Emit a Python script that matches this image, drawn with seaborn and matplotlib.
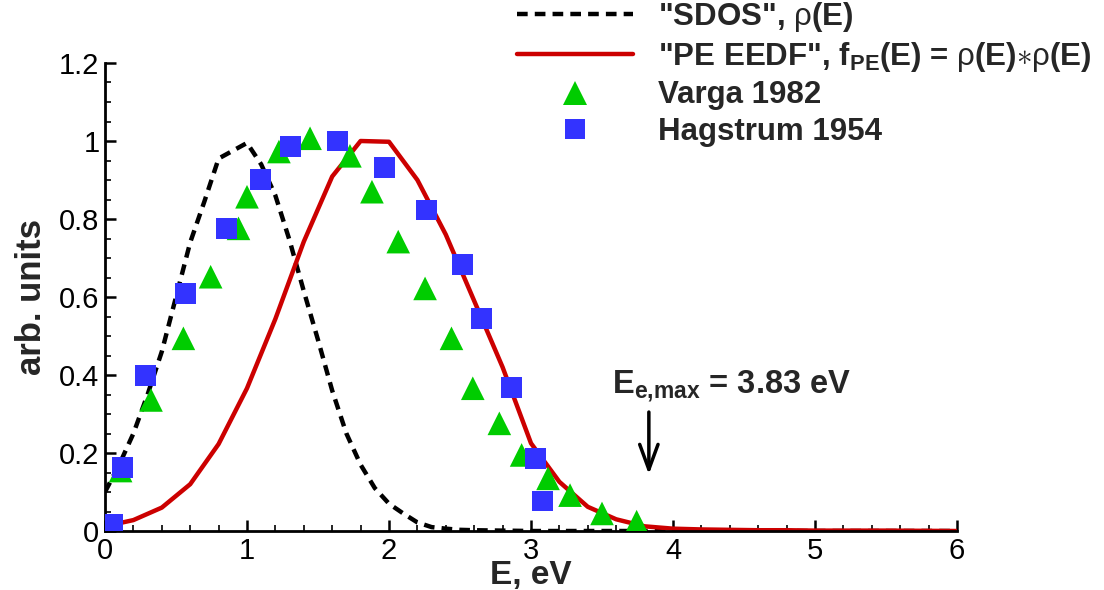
import numpy as np
import matplotlib
matplotlib.use("Agg")
import matplotlib.pyplot as plt
import seaborn as sns
from matplotlib.ticker import MultipleLocator, FuncFormatter
from matplotlib.lines import Line2D

# ---------------- data ----------------
sdos_E = [0.0, 0.1, 0.2, 0.3, 0.4, 0.5, 0.6, 0.7, 0.8, 0.9, 1.0, 1.1, 1.2, 1.3,
          1.4, 1.5, 1.6, 1.7, 1.8, 1.9, 2.0, 2.1, 2.2, 2.3, 2.4, 2.5, 2.6, 2.8,
          3.0, 3.5, 4.0, 5.0, 6.0]
sdos_rho = [0.10, 0.17, 0.25, 0.35, 0.46, 0.60, 0.74, 0.845, 0.955, 0.975, 0.995,
            0.94, 0.86, 0.745, 0.615, 0.49, 0.36, 0.25, 0.17, 0.11, 0.07, 0.045,
            0.022, 0.010, 0.006, 0.003, 0.002, 0.001, 0.0, 0.0, 0.0, 0.0, 0.0]

eedf_E = [0.0, 0.2, 0.4, 0.6, 0.8, 1.0, 1.2, 1.4, 1.6, 1.8, 2.0, 2.2, 2.4, 2.6,
          2.8, 3.0, 3.2, 3.4, 3.6, 3.8, 4.0, 4.2, 4.4, 4.6, 4.8, 5.0, 5.5, 6.0]
eedf_f = [0.012, 0.028, 0.06, 0.12, 0.223, 0.366, 0.544, 0.742, 0.909, 1.0, 0.998,
          0.90, 0.76, 0.59, 0.42, 0.225, 0.126, 0.062, 0.03, 0.012, 0.006, 0.004,
          0.003, 0.002, 0.002, 0.001, 0.001, 0.0]

varga_E = [0.11, 0.324, 0.552, 0.744, 0.94, 1.0, 1.225, 1.444, 1.725, 1.88, 2.065,
           2.254, 2.44, 2.59, 2.777, 2.934, 3.12, 3.275, 3.5, 3.744]
varga_y = [0.155, 0.336, 0.494, 0.652, 0.776, 0.857, 0.973, 1.007, 0.962, 0.87, 0.742,
           0.622, 0.494, 0.366, 0.276, 0.195, 0.135, 0.092, 0.045, 0.024]

hag_E = [0.05, 0.122, 0.284, 0.566, 0.857, 1.094, 1.305, 1.636, 1.97, 2.263, 2.518,
         2.65, 2.861, 3.03, 3.08]
hag_y = [0.016, 0.163, 0.399, 0.609, 0.775, 0.902, 0.986, 1.0, 0.933, 0.823, 0.684,
         0.545, 0.368, 0.186, 0.077]

labels = ['"SDOS", $\\rho$(E)',
          '"PE EEDF", f$_{\\mathbf{PE}}$(E) = $\\rho$(E)$\\ast$$\\rho$(E)',
          'Varga 1982', 'Hagstrum 1954']
annot_value = 3.83

# ---------------- style ----------------
sns.set_theme(style="ticks")
plt.rcParams['font.family'] = ['Liberation Sans', 'DejaVu Sans']
plt.rcParams['mathtext.fontset'] = 'custom'
plt.rcParams['mathtext.rm'] = 'Liberation Sans'
plt.rcParams['mathtext.it'] = 'Liberation Sans'
plt.rcParams['mathtext.bf'] = 'Liberation Sans:bold'

RED = '#CC0000'
GREEN = '#00CC00'
BLUE = '#3333FF'

fig = plt.figure(figsize=(11.04, 5.90), dpi=100)
ax = fig.add_axes([105/1104, 1 - 531/590, (957 - 105)/1104, (531 - 63)/590])

sns.lineplot(x=sdos_E, y=sdos_rho, ax=ax, color='black', lw=3.2, sort=False)
ax.lines[-1].set_dashes((2.4, 1.6))
sns.lineplot(x=eedf_E, y=eedf_f, ax=ax, color=RED, lw=3.2, sort=False)
sns.scatterplot(x=varga_E, y=varga_y, ax=ax, marker='^', s=17**2, color=GREEN,
                edgecolor='none', linewidth=0, zorder=3)
sns.scatterplot(x=hag_E, y=hag_y, ax=ax, marker='s', s=15**2, color=BLUE,
                edgecolor='none', linewidth=0, zorder=4)

ax.set_xlim(0, 6)
ax.set_ylim(0, 1.2)
ax.xaxis.set_major_locator(MultipleLocator(1))
ax.xaxis.set_minor_locator(MultipleLocator(0.2))
ax.yaxis.set_major_locator(MultipleLocator(0.2))
ax.yaxis.set_minor_locator(MultipleLocator(0.05))
ax.yaxis.set_major_formatter(FuncFormatter(lambda v, p: ('%g' % round(v, 2))))
ax.xaxis.set_major_formatter(FuncFormatter(lambda v, p: ('%g' % round(v, 2))))

for s in ['top', 'right']:
    ax.spines[s].set_visible(False)
for s in ['left', 'bottom']:
    ax.spines[s].set_linewidth(2.0)
    ax.spines[s].set_color('black')
ax.tick_params(which='major', direction='in', length=8, width=1.8, labelsize=21,
               colors='black', pad=4)
ax.tick_params(which='minor', direction='in', length=4.5, width=1.2, colors='black')
ax.set_facecolor('white')
fig.patch.set_facecolor('white')

ax.set_xlabel('E, eV', fontsize=24, fontweight='bold', labelpad=-3)
ax.set_ylabel('arb. units', fontsize=25, fontweight='bold', labelpad=8)

# annotation
ax.text(3.57, 0.354, 'E$_{\\mathbf{e{,}max}}$ = 3.83 eV', fontsize=23.5,
        fontweight='bold', ha='left', va='baseline')
ax.annotate('', xy=(annot_value, 0.145), xytext=(annot_value, 0.305),
            arrowprops=dict(arrowstyle='->,head_length=0.6,head_width=0.22',
                            lw=2.5, color='black', mutation_scale=30,
                            shrinkA=0, shrinkB=0))

# legend
handles = [Line2D([], [], color='black', lw=3.2, dashes=(2.4, 1.6)),
           Line2D([], [], color=RED, lw=3.2),
           Line2D([], [], color=GREEN, marker='^', markersize=17, ls='none',
                  markeredgewidth=0),
           Line2D([], [], color=BLUE, marker='s', markersize=15, ls='none',
                  markeredgewidth=0)]
leg = ax.legend(handles, labels, loc='upper left',
                bbox_to_anchor=(517/1104, 1.0), bbox_transform=fig.transFigure,
                frameon=False, fontsize=22.5, handlelength=3.7, handletextpad=0.8,
                labelspacing=0.2, borderpad=0, borderaxespad=0)
for t in leg.get_texts():
    t.set_fontweight('bold')

fig.savefig('out.png', dpi=100, facecolor='white')
